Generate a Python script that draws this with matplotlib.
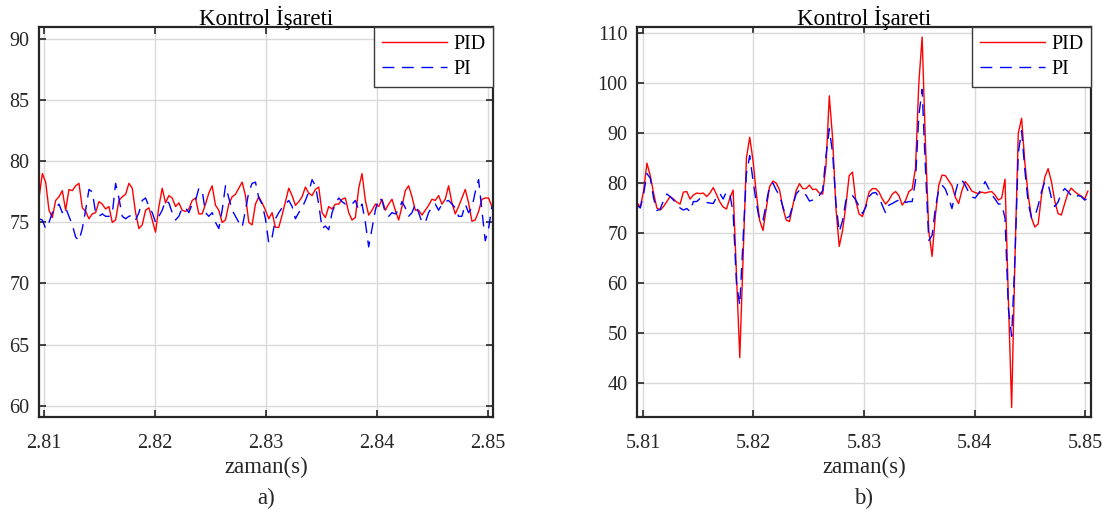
import numpy as np
import matplotlib
matplotlib.use("Agg")
import matplotlib.pyplot as plt

plt.rcParams['font.family'] = ['Liberation Serif', 'DejaVu Serif']
plt.rcParams['axes.unicode_minus'] = False

# --- data ---
dt = 0.0003            # sample step, s
t0_a = 2.80955         # first sample, plot a
t0_b = 5.80946         # first sample, plot b

pid_a = [77.0, 79.0, 78.3, 76.0, 75.4, 76.8, 77.1, 77.6, 76.0, 77.7,
         77.6, 78.0, 78.2, 76.2, 75.9, 75.3, 75.7, 75.8, 76.7, 76.5,
         76.1, 76.3, 75.0, 75.2, 76.8, 77.1, 77.3, 78.2, 77.8, 75.8,
         74.5, 74.8, 76.0, 76.2, 75.2, 74.2, 76.3, 77.8, 76.6, 77.2,
         77.0, 76.3, 76.6, 76.0, 75.9, 76.1, 76.8, 77.0, 75.7, 75.7,
         76.5, 77.4, 78.0, 76.4, 76.0, 75.0, 75.2, 76.5, 77.1, 77.3,
         77.8, 78.3, 77.2, 75.0, 74.8, 76.5, 77.1, 76.6, 76.0, 75.3,
         75.8, 74.6, 74.6, 75.6, 76.7, 77.8, 77.2, 76.4, 76.7, 77.1,
         77.9, 77.4, 77.2, 77.7, 77.9, 75.8, 75.4, 76.3, 76.1, 76.5,
         76.5, 76.9, 77.0, 75.8, 75.2, 75.4, 77.8, 79.0, 76.8, 75.6,
         76.0, 76.5, 76.3, 76.9, 76.0, 76.5, 76.9, 76.0, 75.2, 76.3,
         77.6, 78.0, 77.1, 76.0, 76.0, 75.6, 76.0, 76.4, 76.9, 76.8,
         77.2, 76.5, 76.9, 78.0, 76.6, 75.7, 76.3, 77.0, 77.7, 76.6,
         75.1, 75.2, 75.9, 76.9, 77.0, 77.0, 76.3]

pi_a = [75.3, 75.2, 74.5, 75.0, 75.8, 76.2, 76.5, 75.8, 76.2, 75.5,
        74.8, 73.8, 73.5, 74.5, 76.0, 77.7, 77.5, 75.8, 75.5, 75.7,
        75.5, 75.5, 75.7, 78.2, 77.0, 75.5, 75.3, 75.5, 75.6, 75.2,
        75.8, 76.8, 77.0, 76.3, 75.8, 75.0, 75.5, 76.0, 76.8, 76.6,
        75.8, 75.2, 75.5, 76.2, 76.2, 75.8, 76.5, 76.8, 77.8, 77.6,
        75.8, 75.5, 75.8, 75.0, 74.5, 76.0, 78.0, 77.0, 76.0, 75.5,
        75.0, 74.6, 76.0, 77.5, 78.2, 78.3, 77.0, 76.5, 75.3, 73.3,
        73.8, 75.3, 75.8, 76.2, 76.5, 76.8, 76.3, 75.3, 75.8, 76.2,
        76.8, 77.5, 78.5, 78.0, 76.5, 74.5, 74.7, 74.4, 75.8, 76.5,
        77.0, 76.7, 76.5, 76.6, 76.5, 76.8, 76.0, 76.5, 75.0, 73.0,
        74.5, 76.0, 77.0, 76.8, 75.8, 75.5, 75.8, 75.7, 76.0, 76.7,
        76.2, 75.5, 75.8, 76.5, 75.8, 75.0, 75.0, 75.8, 76.3, 76.5,
        76.0, 76.5, 76.7, 76.8, 76.5, 76.2, 75.5, 75.5, 76.5, 75.8,
        76.2, 77.5, 78.5, 76.0, 73.5, 74.5, 76.3]

pid_b = [76.1, 75.2, 78.5, 84.0, 81.5, 78.0, 75.0, 74.6, 75.3, 76.3,
         77.3, 76.8, 76.2, 75.8, 78.2, 78.3, 76.8, 77.6, 78.0, 77.9,
         78.0, 77.3, 78.0, 79.1, 77.7, 76.2, 75.2, 74.8, 77.0, 78.6,
         62.0, 45.0, 65.0, 85.0, 89.2, 84.5, 77.8, 72.5, 70.5, 75.0,
         79.3, 80.4, 80.0, 78.6, 75.0, 72.6, 72.3, 75.5, 78.5, 79.9,
         78.9, 78.9, 79.6, 78.7, 78.8, 78.0, 77.8, 83.5, 97.5, 89.0,
         75.0, 67.3, 70.5, 75.5, 81.5, 82.2, 76.4, 73.8, 73.3, 75.5,
         78.2, 78.9, 78.9, 78.2, 76.8, 75.8, 76.6, 77.8, 78.3, 77.5,
         75.6, 76.5, 78.3, 78.8, 83.0, 100.0, 109.3, 88.0, 70.5, 65.3,
         73.5, 79.5, 81.6, 81.5, 80.5, 79.5, 77.2, 75.9, 78.5, 80.3,
         79.5, 78.4, 78.1, 77.9, 78.2, 78.0, 78.2, 78.3, 77.6, 76.6,
         77.0, 80.8, 57.0, 35.0, 65.0, 90.0, 93.0, 84.0, 77.5, 73.0,
         71.2, 71.8, 77.5, 81.2, 82.9, 80.3, 76.4, 73.9, 73.6, 75.9,
         78.0, 79.0, 78.3, 77.8, 77.4, 76.8, 78.4]

pi_b = [75.6, 75.0, 77.8, 81.9, 81.0, 77.0, 74.5, 74.8, 76.5, 77.8,
        77.3, 76.6, 75.8, 75.0, 74.6, 74.9, 74.3, 76.3, 76.3, 76.9,
        76.5, 76.1, 76.0, 75.9, 77.2, 77.9, 76.8, 78.3, 77.8, 74.0,
        60.0, 55.5, 68.5, 81.9, 85.5, 80.5, 76.0, 72.3, 72.5, 76.0,
        79.5, 80.0, 78.6, 77.5, 75.3, 73.0, 73.3, 75.6, 77.8, 78.6,
        78.0, 77.6, 76.4, 76.6, 76.8, 77.5, 78.5, 85.5, 90.9, 86.0,
        76.0, 70.2, 72.5, 76.5, 77.6, 77.5, 76.6, 75.3, 73.9, 75.2,
        77.3, 78.0, 78.1, 77.2, 75.5, 74.0, 75.6, 75.9, 76.3, 76.6,
        76.9, 76.1, 76.3, 76.3, 80.5, 93.5, 98.8, 83.0, 68.5, 69.5,
        75.0, 78.7, 79.6, 78.8, 77.0, 74.9, 78.0, 80.5, 80.6, 79.6,
        78.2, 77.2, 77.0, 77.9, 78.9, 80.3, 79.0, 77.7, 76.8, 75.8,
        75.8, 73.0, 55.0, 49.3, 65.0, 86.0, 90.5, 82.5, 76.0, 73.0,
        73.3, 75.5, 78.3, 80.3, 79.8, 77.0, 75.3, 76.2, 78.0, 78.9,
        78.3, 77.5, 77.0, 77.5, 77.3, 76.6, 77.0]

xticks_a = [2.81, 2.82, 2.83, 2.84, 2.85]
xticks_b = [5.81, 5.82, 5.83, 5.84, 5.85]
yticks_a = [60, 65, 70, 75, 80, 85, 90]
yticks_b = [40, 50, 60, 70, 80, 90, 100, 110]

t_a = t0_a + dt * np.arange(len(pid_a))
t_b = t0_b + dt * np.arange(len(pid_b))

fig = plt.figure(figsize=(11.1, 5.16), dpi=100)
ax_a = fig.add_axes([0.03514, 0.19186, 0.40901, 0.75581])
ax_b = fig.add_axes([0.57387, 0.19186, 0.40901, 0.75581])

dark = '#262626'


def style_axes(ax, xt, yt, xlim, ylim, tag):
    ax.set_xlim(*xlim)
    ax.set_ylim(*ylim)
    ax.set_xticks(xt)
    ax.set_xticklabels(['%.2f' % v for v in xt])
    ax.set_yticks(yt)
    ax.grid(True, color='#d9d9d9', linewidth=1.0)
    ax.set_axisbelow(True)
    ax.tick_params(direction='in', length=5, width=1.2, top=True, right=True,
                   labelsize=14.5, colors=dark)
    ax.tick_params(axis='x', pad=12)
    ax.tick_params(axis='y', pad=7)
    for s in ax.spines.values():
        s.set_linewidth(1.6)
        s.set_color(dark)
    ax.set_title('Kontrol İşareti', fontsize=16.5, pad=1.5, color='black')
    ax.set_xlabel('zaman(s)', fontsize=16.5, color=dark, labelpad=3)
    leg = ax.legend(loc='upper right', bbox_to_anchor=(1.0, 1.0), borderaxespad=0,
                    fontsize=14.5, fancybox=False, framealpha=1, edgecolor='#3a3a3a',
                    handlelength=3.25, handletextpad=0.3, labelspacing=0.32,
                    borderpad=0.38)
    leg.get_frame().set_linewidth(1.0)
    pos = ax.get_position()
    fig.text(pos.x0 + pos.width / 2, 0.034, tag, ha='center', va='center',
             fontsize=16.5, color=dark)


ax_a.plot(t_a, pid_a, color='#ff0000', linewidth=1.0, label='PID')
ax_a.plot(t_a, pi_a, color='#0000ff', linewidth=1.0, dashes=(8.5, 5.5), label='PI')
style_axes(ax_a, xticks_a, yticks_a, (2.80955, 2.85045), (59.07, 91.0), 'a)')

ax_b.plot(t_b, pid_b, color='#ff0000', linewidth=1.0, label='PID')
ax_b.plot(t_b, pi_b, color='#0000ff', linewidth=1.0, dashes=(8.5, 5.5), label='PI')
style_axes(ax_b, xticks_b, yticks_b, (5.80946, 5.85054), (33.1, 111.3), 'b)')

fig.savefig('out.png', dpi=100)
